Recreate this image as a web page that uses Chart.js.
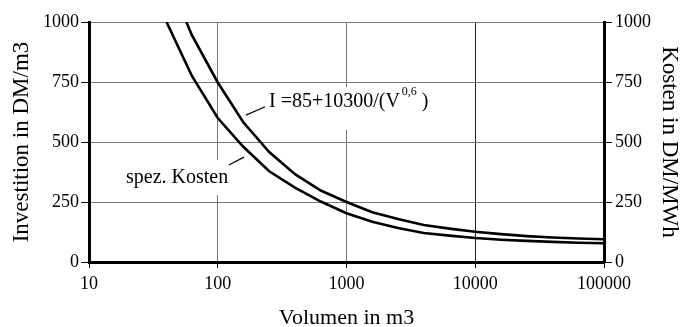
<!DOCTYPE html>
<html><head><meta charset="utf-8">
<script src="https://cdn.jsdelivr.net/npm/chart.js@4/dist/chart.umd.min.js"></script>
<style>html,body{margin:0;padding:0;background:#fff;}#wrap{width:684px;height:327px;}</style>
</head><body><div id="wrap"><canvas id="c" width="684" height="327"></canvas></div>
<script>
// ---- data ----
const volumenInvest = [57, 63, 100, 158, 251, 398, 631, 1000, 1585, 2512, 3981, 6310, 10000, 15849, 25119, 39811, 63096, 100000];
const investition   = [1000, 945, 748, 582, 458, 366, 298, 250, 207, 179, 154, 139, 126, 116, 108, 102, 98, 95];
const volumenKosten = [40, 63, 100, 158, 251, 398, 631, 1000, 1585, 2512, 3981, 6310, 10000, 15849, 25119, 39811, 63096, 100000];
const spezKosten    = [1000, 775, 600, 480, 378, 310, 252, 203, 168, 142, 121, 110, 100, 93, 88, 84, 80, 78];
const xTicks = [10, 100, 1000, 10000, 100000];
const yTicks = [0, 250, 500, 750, 1000];
const xTitle = 'Volumen in m3';
const yTitle = 'Investition in DM/m3';
const y2Title = 'Kosten in DM/MWh';
const formulaMain = 'I =85+10300/(V';
const formulaExp = '0,6';
const formulaClose = ')';
const kostenLabel = 'spez. Kosten';

const FONT = "'Liberation Serif', 'Times New Roman', serif";
const GRID = '#777';

const annot = {
  id: 'annot',
  beforeDatasetsDraw(chart) {
    const {ctx, scales: {x, y}} = chart;
    ctx.save();
    ctx.fillStyle = '#fff';
    const box = (v1, a1, v2, a2) => {
      const px1 = x.getPixelForValue(v1), px2 = x.getPixelForValue(v2);
      const py1 = y.getPixelForValue(a1), py2 = y.getPixelForValue(a2);
      ctx.fillRect(px1, py1, px2 - px1, py2 - py1);
    };
    box(237, 729, 4955, 550);
    box(18, 425, 134, 279);
    ctx.restore();
  },
  afterDatasetsDraw(chart) {
    const {ctx, scales: {x, y}} = chart;
    ctx.save();
    ctx.strokeStyle = '#000';
    ctx.lineWidth = 1.2;
    const line = (v1, a1, v2, a2) => {
      ctx.beginPath();
      ctx.moveTo(x.getPixelForValue(v1), y.getPixelForValue(a1));
      ctx.lineTo(x.getPixelForValue(v2), y.getPixelForValue(a2));
      ctx.stroke();
    };
    line(165.6, 612, 232.8, 647);
    line(122, 404, 160, 437);
    ctx.fillStyle = '#000';
    ctx.textBaseline = 'alphabetic';
    ctx.textAlign = 'left';
    // formula
    let fx = x.getPixelForValue(250), fy = y.getPixelForValue(646);
    ctx.font = '20px ' + FONT;
    ctx.fillText(formulaMain, fx, fy);
    fx += ctx.measureText(formulaMain).width + 2;
    ctx.font = '12px ' + FONT;
    ctx.fillText(formulaExp, fx, fy - 12);
    fx += ctx.measureText(formulaExp).width + 5;
    ctx.font = '20px ' + FONT;
    ctx.fillText(formulaClose, fx, fy);
    // spez. Kosten
    ctx.fillText(kostenLabel, x.getPixelForValue(19.4), y.getPixelForValue(328));
    ctx.restore();
  }
};

const mkY = (pos, width, title, titlePad, tickPad) => ({
  type: 'linear', position: pos, min: 0, max: 1000,
  afterBuildTicks: s => { s.ticks = yTicks.map(v => ({value: v})); },
  ticks: {font: {family: FONT, size: 18}, color: '#000', padding: tickPad, callback: v => String(v)},
  grid: {
    drawOnChartArea: pos === 'left',
    color: c => (c.tick && c.tick.value === 0) ? 'rgba(0,0,0,0)' : GRID,
    lineWidth: 1, tickLength: 8, tickColor: '#000', tickWidth: 1
  },
  border: {color: '#000', width: 3},
  title: {display: true, text: title, color: '#000', font: {family: FONT, size: 23, lineHeight: 1}, padding: titlePad},
  afterFit: s => { s.width = width; }
});

new Chart(document.getElementById('c'), {
  type: 'line',
  data: {
    datasets: [
      {label: 'Investition', data: volumenInvest.map((v, i) => ({x: v, y: investition[i]})),
       borderColor: '#000', borderWidth: 2.6, pointRadius: 0, tension: 0, fill: false, yAxisID: 'y'},
      {label: 'spez. Kosten', data: volumenKosten.map((v, i) => ({x: v, y: spezKosten[i]})),
       borderColor: '#000', borderWidth: 2.6, pointRadius: 0, tension: 0, fill: false, yAxisID: 'y'}
    ]
  },
  options: {
    responsive: false, animation: false, devicePixelRatio: 1,
    layout: {padding: {top: 22, left: 0, right: 0, bottom: 0}},
    plugins: {legend: {display: false}, tooltip: {enabled: false}},
    scales: {
      x: {
        type: 'logarithmic', position: 'bottom', min: 10, max: 100000,
        afterBuildTicks: s => { s.ticks = xTicks.map(v => ({value: v})); },
        ticks: {font: {family: FONT, size: 18}, color: '#000', padding: 5, maxRotation: 0, autoSkip: false, callback: v => String(v)},
        grid: {
          color: c => (c.tick && (c.tick.value === 10 || c.tick.value === 100000)) ? 'rgba(0,0,0,0)' : (c.tick && c.tick.value === 10000 ? '#222' : GRID),
          lineWidth: 1, tickLength: 6, tickColor: '#000', tickWidth: 1
        },
        border: {color: '#000', width: 3},
        title: {display: true, text: xTitle, color: '#000', font: {family: FONT, size: 22, lineHeight: 1}, padding: {top: 0, bottom: -2}},
        afterFit: s => { s.height = 65; }
      },
      y: mkY('left', 89, yTitle, {top: 10, bottom: 0}, 2),
      y2: mkY('right', 80, y2Title, {top: 3, bottom: 0}, 3)
    }
  },
  plugins: [annot]
});
</script></body></html>
